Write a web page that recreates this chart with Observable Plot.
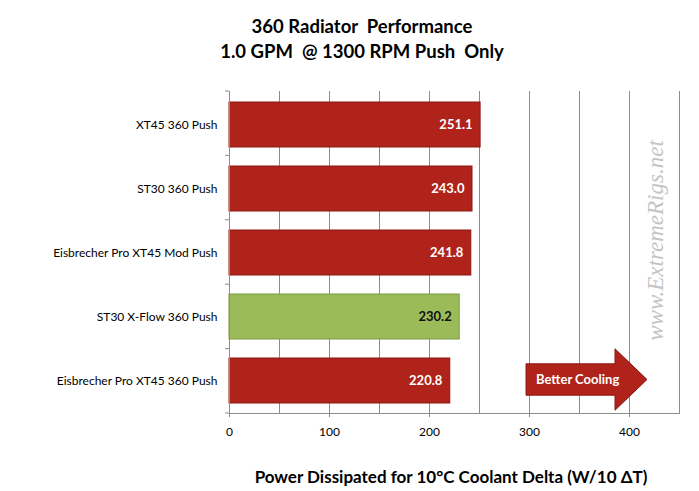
<!DOCTYPE html>
<html>
<head>
<meta charset="utf-8">
<script src="https://cdn.jsdelivr.net/npm/d3@7"></script>
<script src="https://cdn.jsdelivr.net/npm/@observablehq/plot@0.6"></script>
<style>
  html, body { margin: 0; padding: 0; background: #fff; }
  #wrap { position: relative; width: 699px; height: 491px; font-family: Lato, "Open Sans", sans-serif; }
  #title { position: absolute; left: 0; top: 14px; width: 724px; text-align: center; font-weight: bold; font-size: 18.5px; line-height: 25px; color: #000; white-space: pre; }
  #xlabel { position: absolute; left: 0; top: 466px; width: 902px; text-align: center; font-weight: bold; font-size: 17px; color: #000; }
  #chart { position: absolute; left: 0; top: 0; }
</style>
</head>
<body>
<div id="wrap">
  <div id="chart"></div>
  <div id="title">360 Radiator  Performance
1.0 GPM  @ 1300 RPM Push  Only</div>
  <div id="xlabel">Power Dissipated for 10°C Coolant Delta (W/10 ΔT)</div>
</div>
<script>
const categories = ["XT45 360 Push", "ST30 360 Push", "Eisbrecher Pro XT45 Mod Push", "ST30 X-Flow 360 Push", "Eisbrecher Pro XT45 360 Push"];
const values = [251.1, 243.0, 241.8, 230.2, 220.8];
const highlighted = [false, false, false, true, false];
const xTicks = [0, 100, 200, 300, 400];
const gridLines = [50, 100, 150, 200, 250, 300, 350, 400, 450];
const watermark = "www.ExtremeRigs.net";
const arrowLabel = "Better Cooling";

const data = categories.map((name, i) => ({name, value: values[i], hi: highlighted[i]}));

const red = "#B0231A", redEdge = "#8A1A12";
const green = "#9BBB59", greenEdge = "#7D9A45";

const plot = Plot.plot({
  width: 699,
  height: 491,
  marginLeft: 229,
  marginRight: 20,
  marginTop: 91,
  marginBottom: 78,
  style: {fontFamily: "Lato, 'Open Sans', sans-serif", fontSize: "12px", color: "#000", background: "transparent"},
  x: {domain: [0, 450]},
  y: {domain: categories, paddingInner: 0.3, paddingOuter: 0.15},
  marks: [
    Plot.ruleX(gridLines, {stroke: "#8c8c8c", strokeWidth: 1}),
    Plot.text([watermark], {frameAnchor: "right", textAnchor: "middle", dx: -24, dy: -12, rotate: -90, text: d => d,
      fill: "#c4c4c4", fontSize: 23, fontStyle: "italic", fontFamily: "'Liberation Serif', 'DejaVu Serif', serif"}),
    Plot.barX(data, {x: "value", y: "name", fill: d => d.hi ? green : red, stroke: d => d.hi ? greenEdge : redEdge, strokeWidth: 1}),
    Plot.text(data, {x: "value", y: "name", text: d => d.value.toFixed(1), textAnchor: "end", dx: -8,
      fill: d => d.hi ? "#111" : "#fff", fontWeight: "bold", fontSize: 13}),
    Plot.ruleX([0], {stroke: "#8c8c8c", strokeWidth: 1}),
    Plot.frame({anchor: "bottom", stroke: "#8c8c8c", strokeOpacity: 1}),
    Plot.axisX({ticks: xTicks, tickSize: 4, tickPadding: 10, stroke: "#8c8c8c", label: null, fill: "#000", fontSize: 12}),
    Plot.axisY({tickSize: 0, tickPadding: 12, label: null, fill: "#000", fontSize: 12})
  ]
});

document.getElementById("chart").appendChild(plot);

// annotations positioned through the plot's scales
const xs = plot.scale("x"), ys = plot.scale("y");
const svg = d3.select(plot);
const [y0, y1] = ys.range;
const step = (y1 - y0) / categories.length;
const ax = xs.apply(0);
// band boundary ticks on y axis
for (let k = 0; k <= categories.length; k++) {
  svg.append("line").attr("x1", ax - 4).attr("x2", ax).attr("y1", y0 + k * step).attr("y2", y0 + k * step)
    .attr("stroke", "#8c8c8c");
}
// Better Cooling arrow in the last band
const lastCat = categories[categories.length - 1];
const cy = ys.apply(lastCat) + ys.bandwidth / 2 - 1;
const xa = xs.apply(297), xh = xs.apply(386), xt = xs.apply(418);
const bh = 15.7, hh = 30.7;
const pathD = `M${xa},${cy - bh}L${xh},${cy - bh}L${xh},${cy - hh}L${xt},${cy}L${xh},${cy + hh}L${xh},${cy + bh}L${xa},${cy + bh}Z`;
svg.append("path").attr("d", pathD).attr("fill", red).attr("stroke", redEdge).attr("stroke-width", 1);
svg.append("text").attr("x", xa + 10).attr("y", cy).attr("dy", "0.35em").attr("text-anchor", "start")
  .attr("fill", "#fff").attr("font-weight", "bold").attr("font-size", 13)
  .attr("font-family", "Lato, 'Open Sans', sans-serif").text(arrowLabel);
</script>
</body>
</html>
